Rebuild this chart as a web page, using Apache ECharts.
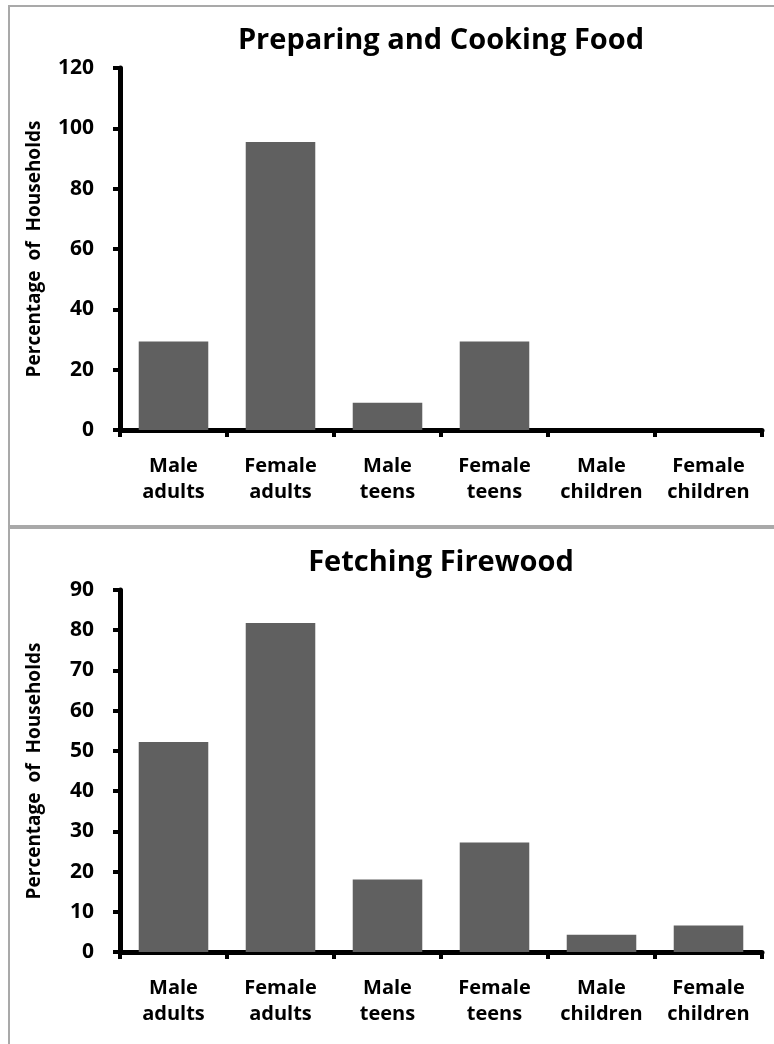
<!DOCTYPE html>
<html>
<head>
<meta charset="utf-8">
<script src="https://cdn.jsdelivr.net/npm/echarts@6/dist/echarts.min.js"></script>
<style>
  html, body { margin: 0; padding: 0; background: #fff; overflow: hidden; width: 774px; height: 1044px; }
  .box { position: absolute; left: 8px; width: 900px; border: 2px solid #a9a9a9; box-sizing: border-box; }
  .chart { position: absolute; left: 0; width: 774px; height: 522px; }
</style>
</head>
<body>
<div class="box" style="top:5px;height:522px;"></div>
<div class="box" style="top:527px;height:600px;"></div>
<div id="cookChart" class="chart" style="top:0px;"></div>
<div id="woodChart" class="chart" style="top:522px;"></div>
<script>
const categories = ['Male\nadults', 'Female\nadults', 'Male\nteens', 'Female\nteens', 'Male\nchildren', 'Female\nchildren'];
const cookingValues = [29.3, 95.5, 9.0, 29.3, 0, 0];
const firewoodValues = [52.2, 81.8, 18.0, 27.2, 4.3, 6.6];
const cookingTicks = { max: 120, interval: 20 };
const firewoodTicks = { max: 90, interval: 10 };

const FONT = '"Open Sans", "Noto Sans", sans-serif';

function makeOption(title, values, ticks) {
  return {
    animation: false,
    graphic: [{
      type: 'text',
      x: 441,
      y: 41,
      style: {
        text: title,
        align: 'center',
        verticalAlign: 'middle',
        fontFamily: FONT,
        fontWeight: 'bold',
        fontSize: 29,
        fill: '#000'
      }
    }],
    grid: { left: 120, right: 12, top: 68, bottom: 92 },
    xAxis: {
      type: 'category',
      data: categories,
      axisLine: { lineStyle: { color: '#000', width: 5 } },
      axisTick: { show: true, length: 7, lineStyle: { color: '#000', width: 4 } },
      axisLabel: {
        interval: 0,
        margin: 23,
        color: '#000',
        fontFamily: FONT,
        fontWeight: 'bold',
        fontSize: 20,
        lineHeight: 26
      }
    },
    yAxis: {
      type: 'value',
      min: 0,
      max: ticks.max,
      interval: ticks.interval,
      name: 'Percentage  of  Households',
      nameLocation: 'middle',
      nameRotate: 90,
      nameGap: 76,
      nameTextStyle: {
        color: '#000',
        fontFamily: FONT,
        fontWeight: 'bold',
        fontSize: 19
      },
      axisLine: { show: true, lineStyle: { color: '#000', width: 5 } },
      axisTick: { show: true, length: 7, lineStyle: { color: '#000', width: 4 } },
      splitLine: { show: false },
      axisLabel: {
        margin: 26,
        color: '#000',
        fontFamily: FONT,
        fontWeight: 'bold',
        fontSize: 21
      }
    },
    series: [{
      type: 'bar',
      data: values,
      barCategoryGap: '35%',
      itemStyle: { color: '#606060' }
    }]
  };
}

const cookChart = echarts.init(document.getElementById('cookChart'));
cookChart.setOption(makeOption('Preparing and Cooking Food', cookingValues, cookingTicks));
const woodChart = echarts.init(document.getElementById('woodChart'));
woodChart.setOption(makeOption('Fetching Firewood', firewoodValues, firewoodTicks));
</script>
</body>
</html>
